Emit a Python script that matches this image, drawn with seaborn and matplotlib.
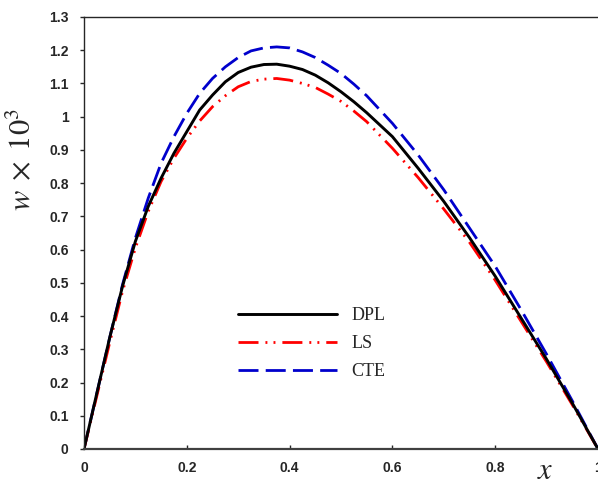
import numpy as np
import pandas as pd
import seaborn as sns
import matplotlib.pyplot as plt
from matplotlib.ticker import FormatStrFormatter
from matplotlib.lines import Line2D

x = [0, 0.025, 0.05, 0.075, 0.1, 0.125, 0.15, 0.175, 0.2, 0.225, 0.25, 0.275,
     0.3, 0.325, 0.35, 0.375, 0.4, 0.425, 0.45, 0.475, 0.5, 0.525, 0.55,
     0.6, 0.65, 0.7, 0.75, 0.8, 0.85, 0.9, 0.95, 1.0]
dpl = [0, 0.168, 0.335, 0.49, 0.625, 0.73, 0.815, 0.89, 0.955, 1.02, 1.065, 1.105,
       1.133, 1.149, 1.157, 1.158, 1.152, 1.142, 1.125, 1.102, 1.075, 1.045, 1.012,
       0.94, 0.845, 0.745, 0.636, 0.52, 0.395, 0.27, 0.138, 0]
ls = [0, 0.16, 0.32, 0.475, 0.605, 0.715, 0.805, 0.875, 0.935, 0.987, 1.03, 1.063,
      1.09, 1.106, 1.113, 1.115, 1.11, 1.1, 1.088, 1.068, 1.046, 1.017, 0.985,
      0.905, 0.817, 0.722, 0.622, 0.508, 0.385, 0.262, 0.133, 0]
cte = [0, 0.168, 0.335, 0.495, 0.635, 0.755, 0.86, 0.94, 1.01, 1.07, 1.115, 1.15,
       1.178, 1.198, 1.207, 1.21, 1.207, 1.195, 1.178, 1.155, 1.13, 1.098, 1.063,
       0.98, 0.885, 0.78, 0.665, 0.55, 0.42, 0.285, 0.145, 0]

x_ticks = [0, 0.2, 0.4, 0.6, 0.8, 1.0]
y_ticks = [0, 0.1, 0.2, 0.3, 0.4, 0.5, 0.6, 0.7, 0.8, 0.9, 1.0, 1.1, 1.2, 1.3]

df = pd.DataFrame({'x': x, 'DPL': dpl, 'LS': ls, 'CTE': cte})

sns.set_style('ticks')
plt.rcParams['font.family'] = ['Liberation Sans', 'DejaVu Sans']
plt.rcParams['mathtext.fontset'] = 'stix'

fig = plt.figure(figsize=(5.98, 4.87), dpi=100)
ax = fig.add_axes([84 / 598, 1 - 449 / 487, 514 / 598, 432 / 487])

blue = '#0000CC'
red = '#FF0000'
ls_style = (0, (7.2, 2.5, 0.7, 2.2, 0.7, 2.5))
cte_style = (0, (7.2, 2.6))

sns.lineplot(data=df, x='x', y='CTE', ax=ax, color=blue, lw=2, linestyle=cte_style)
sns.lineplot(data=df, x='x', y='LS', ax=ax, color=red, lw=2, linestyle=ls_style)
sns.lineplot(data=df, x='x', y='DPL', ax=ax, color='black', lw=2.1)

ax.set_xlim(0, 1)
ax.set_ylim(0, 1.3)
ax.set_xticks(x_ticks)
ax.set_yticks(y_ticks)
ax.xaxis.set_major_formatter(FormatStrFormatter('%g'))
ax.yaxis.set_major_formatter(FormatStrFormatter('%g'))
ax.tick_params(axis='x', direction='in', length=3, width=1, pad=9, labelsize=10)
ax.tick_params(axis='y', direction='out', length=3, width=1, pad=8, labelsize=10)
for lab in ax.get_xticklabels() + ax.get_yticklabels():
    lab.set_fontweight('bold')

ax.spines['right'].set_visible(False)
ax.spines['top'].set_linewidth(1.0)
ax.spines['left'].set_linewidth(1.0)
ax.spines['bottom'].set_linewidth(1.6)
ax.spines['bottom'].set_color('#404040')

ax.set_xlabel(r'$x$', fontsize=22, va='center')
ax.xaxis.set_label_coords(0.897, -0.05)
ax.set_ylabel(r'$w\;\times\;10^3$', fontsize=22, va='center')
ax.yaxis.set_label_coords(-0.12, 0.671)

handles = [
    Line2D([], [], color='black', lw=2.1),
    Line2D([], [], color=red, lw=2, linestyle=ls_style),
    Line2D([], [], color=blue, lw=2, linestyle=cte_style),
]
ax.legend(handles, ['DPL', 'LS', 'CTE'], loc='upper left',
          bbox_to_anchor=(0.2996, 0.328), frameon=False, borderpad=0,
          borderaxespad=0, handlelength=5.5, handletextpad=0.8,
          labelspacing=0.6, prop={'family': 'Liberation Serif', 'size': 13})

fig.savefig('out.png', dpi=100)
